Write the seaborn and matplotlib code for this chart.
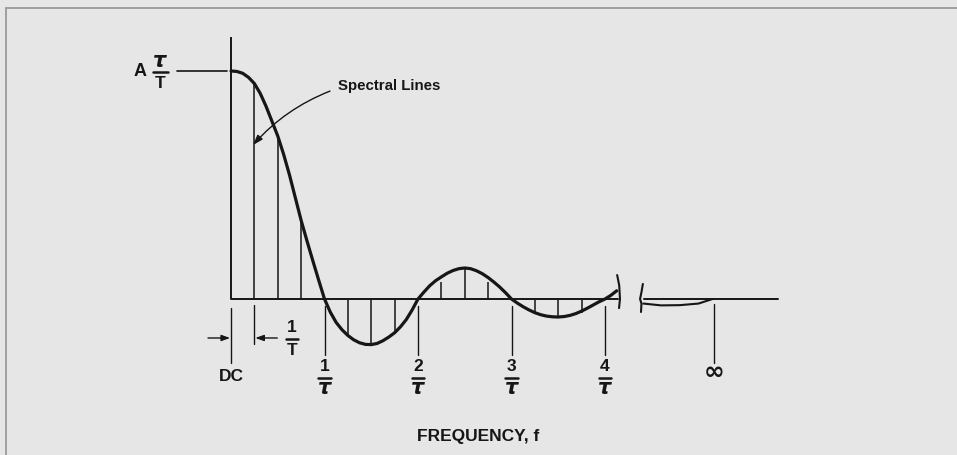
import numpy as np
import pandas as pd
import matplotlib
matplotlib.use("Agg")
import matplotlib.pyplot as plt
from matplotlib.lines import Line2D
import seaborn as sns

# ---------------- data (x in units of 1/tau, y relative to A*tau/T) -------------
curve_x = np.arange(0, 67) * 0.0625
curve_y = [1.000, 0.998, 0.990, 0.972, 0.945, 0.902, 0.845, 0.780, 0.715, 0.635,
           0.545, 0.445, 0.345, 0.255, 0.168, 0.083, 0.000,
           -0.058, -0.103, -0.135, -0.160, -0.179, -0.192, -0.199, -0.200,
           -0.195, -0.183, -0.167, -0.148, -0.122, -0.090, -0.048, 0.000,
           0.030, 0.058, 0.080, 0.097, 0.113, 0.125, 0.133, 0.136,
           0.133, 0.124, 0.111, 0.094, 0.074, 0.052, 0.027, 0.000,
           -0.018, -0.034, -0.048, -0.060, -0.069, -0.075, -0.078, -0.079,
           -0.077, -0.072, -0.064, -0.053, -0.040, -0.026, -0.012, 0.000,
           0.016, 0.036]

line_pos = [n / 4 for n in range(1, 17)]          # spectral lines every 1/T (T = 4 tau)
line_height = [0.95, 0.72, 0.34, 0.0, -0.158, -0.200, -0.149, 0.0,
               0.075, 0.136, 0.075, 0.0, -0.061, -0.078, -0.061, 0.0]

tail_x = [4.41, 4.60, 4.80, 5.00, 5.15]
tail_y = [-0.020, -0.028, -0.027, -0.020, 0.0]

zero_ticks = [1, 2, 3, 4]
zero_nums = ["1", "2", "3", "4"]
dc_pos = 0.0
period_pos = 0.25
inf_pos = 5.166
break_left = 4.14
break_right = 4.42
axis_end = 5.85

# ---------------- style ----------------
sns.set_style("white")
plt.rcParams["font.family"] = ["Liberation Sans", "DejaVu Sans"]
INK = "#161616"
BG = "#e6e6e6"

W, H = 957, 455
fig = plt.figure(figsize=(W / 100, H / 100), dpi=100, facecolor=BG)
ax = fig.add_axes([0, 0, 1, 1])
ax.set_facecolor(BG)
# pixel mapping: x=0 -> 231px, 93.5 px per 1/tau ; y=0 -> 299px, 228 px per unit
PX0, SX, PY0, SY = 231, 93.5, 299, 228
ax.set_xlim(-PX0 / SX, (W - PX0) / SX)
ax.set_ylim((PY0 - H) / SY, PY0 / SY)
ax.axis("off")

# frame (top-left edges of the scanned plate)
fig.add_artist(Line2D([6 / W, 6 / W], [0, 1 - 8 / H], transform=fig.transFigure,
                      color="#9a9a9a", lw=1.3))
fig.add_artist(Line2D([6 / W, 1], [1 - 8 / H, 1 - 8 / H], transform=fig.transFigure,
                      color="#9a9a9a", lw=1.3))

# axes lines
ax.plot([0, 0], [0, 1.15], color=INK, lw=1.4, solid_capstyle="butt")
ax.plot([0, break_left], [0, 0], color=INK, lw=1.4)
ax.plot([break_right, axis_end], [0, 0], color=INK, lw=1.4)
ax.plot([-0.578, -0.04], [1.0, 1.0], color=INK, lw=1.2)

# spectral lines
ax.vlines(line_pos, 0, line_height, color=INK, lw=1.1)

# envelope
df = pd.DataFrame({"f": curve_x, "amp": curve_y})
sns.lineplot(data=df, x="f", y="amp", ax=ax, color=INK, lw=2.3, sort=False)
sns.lineplot(x=tail_x, y=tail_y, ax=ax, color=INK, lw=1.5, sort=False)

# break marks
ax.plot([break_left - 0.01, break_left + 0.012, break_left + 0.02, break_left + 0.01],
        [0.105, 0.06, 0.0, -0.04], color=INK, lw=1.5)
ax.plot([break_right - 0.015, break_right - 0.03, break_right - 0.045, break_right - 0.03,
         break_right - 0.035],
        [0.066, 0.03, 0.0, -0.02, -0.057], color=INK, lw=1.5)

# ticks below the axis
for xp in zero_ticks:
    ax.plot([xp, xp], [-0.03, -0.245], color=INK, lw=1.0)
ax.plot([dc_pos, dc_pos], [-0.04, -0.28], color=INK, lw=1.0)
ax.plot([period_pos, period_pos], [-0.026, -0.197], color=INK, lw=1.0)
ax.plot([inf_pos, inf_pos], [-0.02, -0.28], color=INK, lw=1.0)

# fraction labels n/tau
fs = 12.5
for xp, num in zip(zero_ticks, zero_nums):
    ax.text(xp, -0.296, num, ha="center", va="center", fontsize=fs,
            fontweight="bold", color=INK)
    ax.plot([xp - 0.065, xp + 0.065], [-0.346, -0.346], color=INK, lw=1.8)
    ax.text(xp, -0.392, "τ", ha="center", va="center", fontsize=fs + 2.5,
            fontweight="bold", style="italic", color=INK, family="DejaVu Sans")

ax.text(dc_pos, -0.338, "DC", ha="center", va="center", fontsize=fs,
        fontweight="bold", color=INK)
ax.text(inf_pos, -0.322, "∞", ha="center", va="center", fontsize=18,
        fontweight="bold", color=INK, family="DejaVu Sans")

# 1/T spacing indicator
ax.annotate("", xy=(dc_pos - 0.01, -0.171), xytext=(dc_pos - 0.246, -0.171),
            arrowprops=dict(arrowstyle="-|>,head_length=0.5,head_width=0.18",
                            color=INK, lw=1.0, shrinkA=0, shrinkB=0))
ax.annotate("", xy=(period_pos + 0.01, -0.171), xytext=(period_pos + 0.245, -0.171),
            arrowprops=dict(arrowstyle="-|>,head_length=0.5,head_width=0.18",
                            color=INK, lw=1.0, shrinkA=0, shrinkB=0))
ax.text(0.652, -0.127, "1", ha="center", va="center", fontsize=fs,
        fontweight="bold", color=INK)
ax.plot([0.652 - 0.065, 0.652 + 0.065], [-0.175, -0.175], color=INK, lw=1.8)
ax.text(0.652, -0.224, "T", ha="center", va="center", fontsize=fs,
        fontweight="bold", color=INK)

# y label  A tau/T
ax.text(-0.973, 0.996, "A", ha="center", va="center", fontsize=fs + 0.5,
        fontweight="bold", color=INK)
ax.text(-0.759, 1.045, "τ", ha="center", va="center", fontsize=fs + 2.5,
        fontweight="bold", style="italic", color=INK, family="DejaVu Sans")
ax.plot([-0.834, -0.674], [0.996, 0.996], color=INK, lw=1.8)
ax.text(-0.759, 0.947, "T", ha="center", va="center", fontsize=fs,
        fontweight="bold", color=INK)

# spectral lines callout
ax.text(1.144, 0.934, "Spectral Lines", ha="left", va="center", fontsize=10.8,
        fontweight="bold", color=INK)
ax.annotate("", xy=(0.235, 0.675), xytext=(1.059, 0.912),
            arrowprops=dict(arrowstyle="-|>,head_length=0.6,head_width=0.2",
                            color=INK, lw=1.0, shrinkA=0, shrinkB=0,
                            connectionstyle="arc3,rad=0.12"))

# x label
ax.text(2.642, -0.601, "FREQUENCY, f", ha="center", va="center", fontsize=12.5,
        fontweight="bold", color=INK)

fig.savefig("out.png", dpi=100, facecolor=BG)
